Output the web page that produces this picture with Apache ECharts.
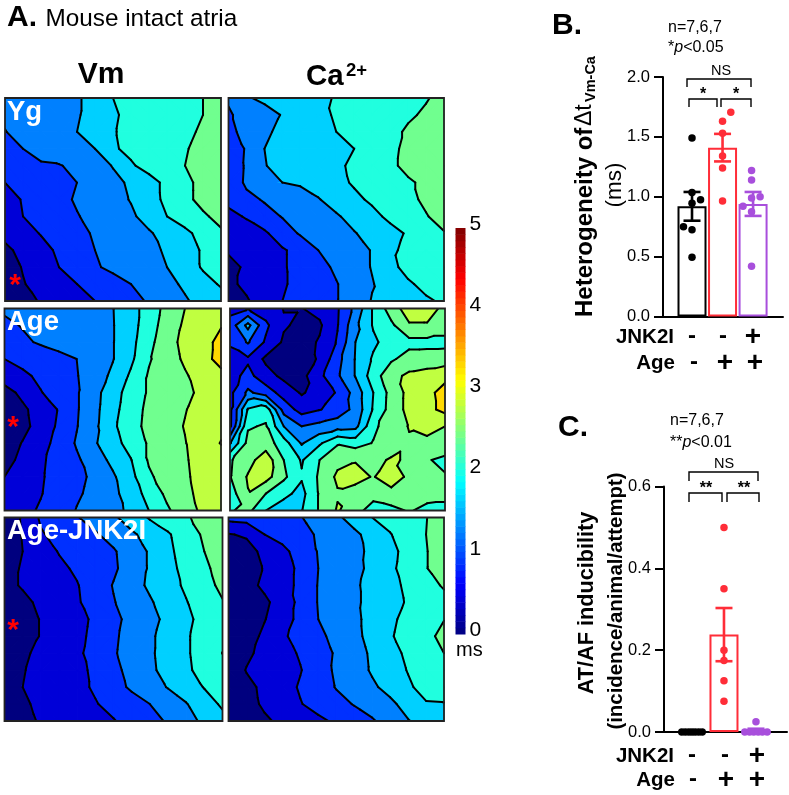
<!DOCTYPE html>
<html><head><meta charset="utf-8">
<style>html,body{margin:0;padding:0;background:#fff}#c{width:789px;height:795px}</style>
<script src="https://cdn.jsdelivr.net/npm/echarts@6/dist/echarts.min.js"></script>
</head><body><div id="c"></div>
<script>
// Contour maps: values read at 13 x 13 sites, in multiples of one contour step (5/12 ms)
const msPerStep = 5 / 12;
const ygVm = [
[3.1,3.3,3.5,3.7,3.9,4.3,5.0,5.2,5.4,5.6,5.8,6.0,6.3],
[3.1,3.3,3.5,3.7,3.9,4.4,4.9,5.2,5.4,5.6,5.8,6.0,6.3],
[2.98,3.2,3.5,3.7,4.0,4.45,4.95,5.2,5.4,5.65,5.85,6.1,6.3],
[2.7,3.0,3.3,3.5,3.75,4.0,4.9,5.2,5.45,5.7,5.95,6.2,6.4],
[2.5,2.8,2.9,2.95,3.2,3.55,4.05,4.9,5.3,5.65,6.0,6.4,6.7],
[2.0,2.25,2.5,2.75,3.0,3.4,3.75,4.15,4.7,5.2,5.75,6.3,6.8],
[1.7,2.05,2.4,2.75,3.1,3.4,3.7,4.05,4.65,5.2,5.75,6.3,6.8],
[1.6,2.0,2.3,2.6,2.95,3.25,3.55,3.85,4.35,5.0,5.4,5.85,6.3],
[1.25,1.65,2.05,2.4,2.75,3.1,3.35,3.65,3.9,4.35,4.8,5.3,5.85],
[0.8,1.25,1.7,2.15,2.6,3.0,3.25,3.5,3.8,4.1,4.6,5.1,5.5],
[0.6,1.05,1.5,2.0,2.45,2.9,3.2,3.45,3.7,4.0,4.5,5.1,5.4],
[0.5,0.95,1.3,1.6,2.0,2.3,2.65,3.0,3.4,3.75,4.15,4.65,5.1],
[0.4,0.8,1.05,1.4,1.7,2.0,2.35,2.7,3.1,3.5,3.9,4.3,4.6]];
const ygCa = [
[3.1,3.9,4.2,4.4,4.6,4.85,5.05,5.25,5.4,5.6,5.75,5.95,6.2],
[2.9,3.3,3.65,4.05,4.4,4.75,5.1,5.3,5.5,5.7,5.9,6.1,6.3],
[2.75,3.3,3.85,4.2,4.45,4.75,5.0,5.25,5.55,5.8,6.1,6.4,6.7],
[2.3,3.1,4.0,4.2,4.4,4.6,4.8,5.0,5.4,5.8,6.2,6.5,6.8],
[2.2,3.15,3.97,4.2,4.4,4.65,4.85,5.15,5.5,5.85,6.2,6.5,6.8],
[2.2,3.2,3.8,4.0,4.1,4.35,4.75,5.1,5.35,5.6,5.9,6.15,6.5],
[2.3,2.7,3.1,3.3,3.65,3.95,4.35,4.8,5.15,5.5,5.8,6.15,6.5],
[1.7,2.1,2.6,3.05,3.35,3.6,3.9,4.3,4.75,5.2,5.55,5.95,6.3],
[1.25,1.5,1.85,2.5,3.1,3.4,3.65,3.95,4.3,4.7,5.1,5.5,5.95],
[1.15,1.4,1.65,1.9,2.3,3.0,3.3,3.65,4.05,4.85,5.2,5.5,5.75],
[0.6,1.2,1.55,1.9,2.3,2.7,3.15,3.6,4.05,4.7,5.35,5.55,5.7],
[0.8,1.2,1.55,1.9,2.25,2.6,2.95,3.4,3.95,4.4,4.85,5.3,5.6],
[0.4,0.9,1.45,2.0,2.3,2.65,2.95,3.5,4.05,4.3,4.6,4.85,5.15]];
const ageVm = [
[3.15,3.35,3.45,3.6,3.75,3.85,3.97,4.6,5.45,6.3,7.0,7.45,7.8],
[2.8,3.05,3.3,3.4,3.6,3.75,3.95,4.6,5.55,6.45,7.15,7.6,7.95],
[2.5,2.85,3.1,3.3,3.5,3.75,3.95,4.7,5.7,6.65,7.25,7.7,8.25],
[2.0,2.3,2.5,2.75,3.0,3.45,3.95,4.8,5.9,6.55,7.15,7.7,8.3],
[1.5,1.8,2.2,2.6,2.95,3.5,4.2,5.15,6.1,6.5,6.9,7.4,7.75],
[0.6,1.25,1.95,2.4,2.9,3.7,4.55,5.45,6.1,6.45,6.8,7.2,7.5],
[0.3,0.8,1.45,2.05,2.9,3.75,4.65,5.6,6.2,6.55,6.95,7.4,7.7],
[0.2,0.7,1.4,2.15,2.95,3.8,4.8,5.65,6.25,6.6,7.05,7.5,7.85],
[0.45,1.05,1.65,2.3,3.1,3.9,4.6,5.4,6.1,6.55,6.95,7.6,8.03],
[0.65,1.25,1.85,2.35,2.85,3.5,4.25,4.95,6.1,6.5,6.9,7.4,7.7],
[1.0,1.45,1.9,2.35,2.75,3.2,3.85,4.7,5.85,6.4,6.85,7.35,7.7],
[1.3,1.55,1.95,2.4,2.85,3.3,3.75,4.45,5.35,6.2,6.75,7.3,7.65],
[1.5,1.75,2.1,2.4,3.05,3.4,3.7,4.2,5.0,5.85,6.55,7.2,7.6]];
const ageCa = [
[1.7,1.95,1.5,0.97,0.97,1.3,1.9,3.3,5.1,6.5,7.5,7.5,6.7],
[2.4,4.3,2.2,1.1,0.8,0.85,1.95,3.75,5.1,5.8,6.9,6.9,6.5],
[2.15,3.1,1.85,0.85,0.6,1.1,2.1,4.0,4.8,5.5,5.7,5.7,5.7],
[1.6,1.85,0.8,0.4,0.4,1.15,2.65,4.05,5.15,5.85,6.4,6.45,6.5],
[1.6,2.3,1.4,0.75,0.7,1.75,2.85,4.05,5.5,6.7,7.2,7.4,7.7],
[1.75,3.2,2.5,1.6,0.9,1.4,2.1,3.4,5.0,6.35,7.3,7.7,8.4],
[1.75,5.1,5.6,2.6,1.6,1.95,2.4,3.3,5.1,6.4,7.3,7.7,8.3],
[1.8,5.9,6.1,4.0,3.0,3.3,3.6,3.7,5.8,6.5,7.05,7.2,7.0],
[3.9,6.3,6.5,5.45,3.9,4.85,5.9,5.6,6.05,6.5,6.9,6.85,6.9],
[5.9,6.6,7.6,6.0,4.9,6.0,6.7,6.95,6.75,7.1,6.9,6.1,5.7],
[5.95,7.1,7.4,6.2,5.1,6.15,7.2,7.25,6.95,7.5,6.8,6.1,6.1],
[5.5,6.95,6.0,5.25,4.7,6.1,6.9,6.7,6.4,6.7,6.6,6.4,6.3],
[5.9,6.3,5.0,4.5,4.95,6.1,7.1,6.4,5.5,5.7,6.1,5.7,5.7]];
const jnkVm = [
[0.3,1.1,2.15,2.55,2.95,3.4,3.85,4.45,5.1,5.5,5.9,6.3,6.6],
[0.4,1.05,1.9,2.3,2.6,2.9,3.35,3.85,4.35,4.9,5.5,6.15,6.6],
[0.45,1.0,1.55,2.05,2.35,2.65,2.9,3.5,4.1,4.8,5.4,6.0,6.5],
[0.6,1.1,1.4,1.8,2.15,2.5,2.85,3.45,4.1,4.7,5.3,5.85,6.3],
[0.7,1.1,1.35,1.65,1.95,2.5,3.05,3.65,4.15,4.65,5.15,5.7,6.2],
[0.3,0.75,1.2,1.55,1.9,2.4,2.95,3.4,3.9,4.4,4.95,5.5,5.95],
[0.25,0.55,1.05,1.4,1.75,2.15,2.75,3.3,3.7,4.25,4.8,5.3,5.7],
[0.25,0.55,1.05,1.45,1.8,2.2,2.85,3.35,3.85,4.35,4.9,5.35,5.75],
[0.4,0.85,1.2,1.5,1.85,2.3,2.9,3.4,3.85,4.4,4.9,5.35,6.02],
[0.5,0.95,1.25,1.55,1.8,2.15,2.75,3.3,3.8,4.35,4.85,5.3,5.65],
[0.6,1.0,1.25,1.5,1.8,2.1,2.65,3.15,3.6,4.05,4.45,5.05,5.5],
[0.5,0.85,1.2,1.45,1.7,1.95,2.25,2.6,3.0,3.45,3.95,4.55,5.15],
[0.35,0.7,1.1,1.3,1.55,1.75,1.95,2.3,2.7,3.1,3.65,4.2,4.7]];
const jnkCa = [
[2.3,2.4,2.55,2.7,2.95,3.35,3.8,4.4,5.0,5.35,5.65,5.98,6.3],
[0.95,1.1,2.0,2.35,2.7,3.1,3.45,3.8,4.35,4.95,5.5,6.0,6.5],
[0.3,0.7,1.2,1.75,2.4,3.05,3.4,3.75,4.2,4.75,5.3,5.95,6.5],
[0.25,0.65,1.05,1.6,2.2,3.0,3.4,3.7,4.25,4.8,5.4,5.95,6.55],
[0.3,0.65,1.2,1.65,2.2,3.05,3.45,3.85,4.3,4.7,5.2,5.65,6.1],
[0.15,0.45,0.8,1.45,2.25,3.05,3.45,3.85,4.25,4.65,5.1,5.4,5.7],
[0.2,0.55,0.95,1.6,2.25,3.0,3.4,3.8,4.3,4.8,5.3,5.65,5.97],
[0.2,0.55,1.2,1.85,2.35,2.8,3.25,3.75,4.3,4.9,5.4,5.7,6.3],
[0.2,0.8,1.3,1.65,2.1,2.6,3.1,3.6,4.15,4.65,5.2,5.55,6.0],
[0.3,1.05,1.35,1.65,1.95,2.55,3.15,3.6,4.1,4.55,5.05,5.3,5.55],
[0.25,0.75,1.2,1.6,2.1,2.55,3.05,3.45,3.85,4.3,4.85,5.35,5.5],
[0.2,0.65,1.15,1.5,1.95,2.35,2.7,3.05,3.4,3.8,4.35,4.92,4.95],
[0.2,0.45,0.85,1.2,1.5,1.8,2.15,2.55,2.9,3.4,3.95,4.35,4.7]];
const mapPanels = [ygVm, ygCa, ageVm, ageCa, jnkVm, jnkCa];

// Panel B
const bMean = [0.92, 1.41, 0.94];
const bSem = [0.12, 0.115, 0.1];
const bYoung = [1.49, 1.035, 0.975, 0.945, 0.75, 0.725, 0.495];
const bYoungX = [0, 0, 0.28, 0, -0.28, 0, 0];
const bAge = [1.705, 1.63, 1.53, 1.34, 1.24, 0.965];
const bAgeX = [0.27, 0, 0, 0, 0, 0];
const bJnk = [1.22, 1.14, 1.0, 0.99, 0.92, 0.875, 0.42];
const bJnkX = [-0.05, -0.05, 0.23, -0.05, -0.33, -0.05, -0.05];

// Panel C
const cMean = [0, 0.238, 0.004];
const cSem = [0, 0.065, 0.004];
const cYoung = [0, 0, 0, 0, 0, 0, 0];
const cYoungX = [-0.32, -0.21, -0.1, 0, 0.1, 0.21, 0.32];
const cAge = [0.5, 0.35, 0.2, 0.175, 0.125, 0.075];
const cAgeX = [0, 0, 0, 0, 0, 0];
const cJnk = [0.025, 0, 0, 0, 0, 0, 0];
const cJnkX = [0, -0.35, -0.2, -0.07, 0.07, 0.2, 0.35];

const BLACK = '#000', RED = '#ff2d38', PURPLE = '#a84fdc';
const groupColors = [BLACK, RED, PURPLE];
const bandColors = ['#00007f','#0000d8','#0030ff','#0080ff','#00d0ff','#20ffdf','#70ff8f','#c0ff40','#ffd800','#ff8000','#ff3000','#a00000'];
const FONT = '"Liberation Sans", Arial, sans-serif';

const panelRects = [
  [5,98,216,203],[228.5,98,215.5,203],
  [4.5,308.5,216.5,202],[230,308.5,215,202],
  [4.5,517.5,218,203.5],[228.5,517.5,215.5,203.5]];

function clip(poly, level, keepAbove) {
  const out = [];
  for (let i = 0; i < poly.length; i++) {
    const a = poly[i], b = poly[(i + 1) % poly.length];
    const ia = keepAbove ? a[2] >= level : a[2] <= level;
    const ib = keepAbove ? b[2] >= level : b[2] <= level;
    if (ia) out.push(a);
    if (ia !== ib) {
      const t = (level - a[2]) / (b[2] - a[2]);
      out.push([a[0] + t * (b[0] - a[0]), a[1] + t * (b[1] - a[1]), level]);
    }
  }
  return out;
}
function cellTriangles(api) {
  const i = api.value(0), j = api.value(1);
  const p = [[i, j, api.value(2)], [i + 1, j, api.value(3)], [i + 1, j + 1, api.value(4)], [i, j + 1, api.value(5)]]
    .map(d => { const c = api.coord([d[0], d[1]]); return [c[0], c[1], d[2]]; });
  return Math.abs(p[0][2] - p[2][2]) <= Math.abs(p[1][2] - p[3][2])
    ? [[p[0], p[1], p[2]], [p[0], p[2], p[3]]]
    : [[p[0], p[1], p[3]], [p[1], p[2], p[3]]];
}
function renderFill(params, api) {
  const children = [];
  cellTriangles(api).forEach(tri => {
    bandColors.forEach((col, k) => {
      let poly = clip(tri, k * msPerStep, true);
      if (poly.length >= 3) poly = clip(poly, (k + 1) * msPerStep, false);
      if (poly.length >= 3) children.push({
        type: 'polygon', shape: { points: poly.map(q => [q[0], q[1]]) },
        style: { fill: col, stroke: col, lineWidth: 1.2 } });
    });
  });
  return { type: 'group', children };
}
function renderLines(params, api) {
  const children = [];
  cellTriangles(api).forEach(tri => {
    for (let k = 1; k < bandColors.length; k++) {
      const L = k * msPerStep, pts = [];
      for (let e = 0; e < 3; e++) {
        const a = tri[e], b = tri[(e + 1) % 3];
        if ((a[2] >= L) !== (b[2] >= L)) {
          const t = (L - a[2]) / (b[2] - a[2]);
          pts.push([a[0] + t * (b[0] - a[0]), a[1] + t * (b[1] - a[1])]);
        }
      }
      if (pts.length === 2) children.push({
        type: 'polyline', shape: { points: pts },
        style: { fill: 'none', stroke: '#000', lineWidth: 2, lineCap: 'round' } });
    }
  });
  return { type: 'group', children };
}
function renderFrame(params, api) {
  const a = api.coord([0, 0]), b = api.coord([12, 12]);
  return { type: 'rect', shape: { x: a[0], y: a[1], width: b[0] - a[0], height: b[1] - a[1] },
    style: { fill: 'none', stroke: '#222', lineWidth: 1.8 } };
}

const grid = [], xAxis = [], yAxis = [], series = [];
mapPanels.forEach((rows, n) => {
  const r = panelRects[n];
  grid.push({ left: r[0], top: r[1], width: r[2], height: r[3] });
  xAxis.push({ type: 'value', gridIndex: n, min: 0, max: 12, show: false });
  yAxis.push({ type: 'value', gridIndex: n, min: 0, max: 12, inverse: true, show: false });
  const cells = [];
  for (let j = 0; j < 12; j++) for (let i = 0; i < 12; i++) {
    cells.push([i, j, rows[j][i] * msPerStep, rows[j][i + 1] * msPerStep, rows[j + 1][i + 1] * msPerStep, rows[j + 1][i] * msPerStep]);
  }
  const common = { type: 'custom', coordinateSystem: 'cartesian2d', xAxisIndex: n, yAxisIndex: n,
    data: cells, encode: { x: 0, y: 1 }, silent: true, animation: false, clip: true };
  series.push(Object.assign({}, common, { renderItem: renderFill, z: 2 }));
  series.push(Object.assign({}, common, { renderItem: renderLines, z: 3 }));
  series.push({ type: 'custom', coordinateSystem: 'cartesian2d', xAxisIndex: n, yAxisIndex: n,
    data: [[0, 0]], encode: { x: 0, y: 1 }, renderItem: renderFrame, silent: true, z: 4, clip: false });
});

// Colour bar
function jet(t) {
  const f = x => Math.round(255 * Math.max(0, Math.min(1, 1.5 - Math.abs(4 * t - x))));
  return 'rgb(' + f(3) + ',' + f(2) + ',' + f(1) + ')';
}
const colorbarSteps = 64;
const barIdx = grid.length;
grid.push({ left: 455.5, top: 228, width: 10, height: 406 });
xAxis.push({ type: 'value', gridIndex: barIdx, min: 0, max: 1, show: false });
yAxis.push({ type: 'value', gridIndex: barIdx, min: 0, max: 5, interval: 1, position: 'right',
  axisLine: { show: false }, axisTick: { show: false }, splitLine: { show: false },
  axisLabel: { color: '#000', fontFamily: FONT, fontSize: 21, margin: 4, verticalAlign: 'bottom', lineHeight: 8 } });
series.push({ type: 'custom', coordinateSystem: 'cartesian2d', xAxisIndex: barIdx, yAxisIndex: barIdx,
  data: Array.from({ length: colorbarSteps }, (_, i) => [i]), encode: { y: 0 }, silent: true,
  renderItem(params, api) {
    const i = api.value(0);
    const a = api.coord([0, (i + 1) * 5 / colorbarSteps]), b = api.coord([1, i * 5 / colorbarSteps]);
    return { type: 'rect', shape: { x: a[0], y: a[1], width: b[0] - a[0], height: b[1] - a[1] + 0.5 },
      style: { fill: jet((i + 0.5) / colorbarSteps) } };
  } });

// Bar panels
function addBarPanel(cfg) {
  const n = grid.length;
  grid.push({ left: cfg.left, top: cfg.top, width: cfg.width, height: cfg.height });
  xAxis.push({ type: 'value', gridIndex: n, min: cfg.xmin, max: cfg.xmax,
    axisLine: { onZero: false, lineStyle: { color: '#000', width: 2 } }, axisTick: { show: false }, axisLabel: { show: false }, splitLine: { show: false } });
  yAxis.push({ type: 'value', gridIndex: n, min: 0, max: cfg.ymax, interval: cfg.yint,
    axisLine: { show: true, onZero: false, lineStyle: { color: '#000', width: 2 } },
    axisTick: { show: true, length: 9, lineStyle: { color: '#000', width: 2 } }, splitLine: { show: false },
    axisLabel: { color: '#000', fontFamily: FONT, fontSize: 16.5, margin: 13, formatter: v => v.toFixed(1) } });
  series.push({ type: 'bar', xAxisIndex: n, yAxisIndex: n, barWidth: cfg.barW, silent: true, z: 2,
    data: cfg.mean.map((m, i) => ({ value: [i, m], itemStyle: { color: '#fff', borderColor: groupColors[i], borderWidth: 2 } })) });
  series.push({ type: 'custom', coordinateSystem: 'cartesian2d', xAxisIndex: n, yAxisIndex: n, silent: true, z: 5,
    data: cfg.mean.map((m, i) => [i, m - cfg.sem[i], m + cfg.sem[i]]), encode: { x: 0, y: [1, 2] }, clip: false,
    renderItem(params, api) {
      const i = api.value(0);
      const lo = api.coord([i, api.value(1)]), hi = api.coord([i, api.value(2)]);
      const st = { fill: 'none', stroke: groupColors[i], lineWidth: 2.6 };
      const hw = cfg.capW;
      return { type: 'group', children: [
        { type: 'polyline', shape: { points: [lo, hi] }, style: st },
        { type: 'polyline', shape: { points: [[lo[0] - hw, lo[1]], [lo[0] + hw, lo[1]]] }, style: st },
        { type: 'polyline', shape: { points: [[hi[0] - hw, hi[1]], [hi[0] + hw, hi[1]]] }, style: st }] };
    } });
  cfg.points.forEach((vals, g) => {
    series.push({ type: 'scatter', xAxisIndex: n, yAxisIndex: n, symbolSize: 7.5, silent: true, z: 6, clip: false,
      itemStyle: { color: groupColors[g], opacity: 1 },
      data: vals.map((v, k) => [g + cfg.offsets[g][k], v]) });
  });
}
addBarPanel({ left: 663, top: 77, width: 120, height: 239.5, xmin: -0.95, xmax: 2.98, ymax: 2, yint: 0.5, barW: 29, capW: 8.5,
  mean: bMean, sem: bSem, points: [bYoung, bAge, bJnk], offsets: [bYoungX, bAgeX, bJnkX] });
addBarPanel({ left: 664, top: 486.5, width: 123, height: 245.5, xmin: -0.875, xmax: 2.97, ymax: 0.6, yint: 0.2, barW: 29, capW: 8.5,
  mean: cMean, sem: cSem, points: [cYoung, cAge, cJnk], offsets: [cYoungX, cAgeX, cJnkX] });

// Text and brackets
const els = [];
function T(text, x, y, size, o) {
  o = o || {};
  els.push({ type: 'text', x, y, rotation: o.rot || 0, z: 100, silent: true,
    style: { text, font: (o.italic ? 'italic ' : '') + (o.bold ? 'bold ' : '') + size + 'px ' + FONT, fill: o.color || '#000',
      textAlign: o.align || 'left', textVerticalAlign: 'middle', rich: o.rich } });
}
function B(pts) {
  els.push({ type: 'polyline', z: 100, silent: true, shape: { points: pts }, style: { fill: 'none', stroke: '#000', lineWidth: 1.4 } });
}
T('A.', 7, 18, 30, { bold: true });
T('Mouse intact atria', 45.5, 19, 24.3);
T('Vm', 101, 75, 30, { bold: true, align: 'center' });
T('Ca', 306, 77, 29.5, { bold: true });
T('2+', 346, 71, 18.5, { bold: true });
T('Yg', 7, 112, 27.5, { bold: true, color: '#fff' });
T('Age', 7, 322, 27.5, { bold: true, color: '#fff' });
T('Age-JNK2I', 7, 531, 27.5, { bold: true, color: '#fff' });
T('*', 15, 286, 30, { bold: true, color: '#ff0000', align: 'center' });
T('*', 13, 428, 30, { bold: true, color: '#ff0000', align: 'center' });
T('*', 13, 631, 30, { bold: true, color: '#ff0000', align: 'center' });
T('ms', 456, 650, 20);

T('B.', 552, 26, 30, { bold: true });
const italicRich = { i: { fontStyle: 'italic', fontFamily: FONT, fontSize: 16 }, n: { fontFamily: FONT, fontSize: 16 } };
T('n=7,6,7', 668, 28, 16);
T('{n|*}{i|p}{n|<0.05}', 668, 48, 16, { rich: italicRich });
T('NS', 721, 71, 14.5, { align: 'center' });
B([[687, 87], [687, 79], [751, 79], [751, 87]]);
B([[689, 107], [689, 99], [717, 99], [717, 107]]);
B([[721, 107], [721, 99], [751, 99], [751, 107]]);
T('*', 703, 95, 16, { bold: true, align: 'center' });
T('*', 736, 95, 16, { bold: true, align: 'center' });
T('Heterogeneity of ', 585, 317, 24, { bold: true, rot: Math.PI / 2 });
T('Δt', 585, 126, 23, { rot: Math.PI / 2 });
T('Vm-Ca', 591, 102, 14.5, { bold: true, rot: Math.PI / 2 });
T('(ms)', 615, 185, 22.5, { rot: Math.PI / 2, align: 'center' });
function signRow(label, y, labelRight, xs, signs) {
  T(label, labelRight, y, 20.5, { bold: true, align: 'right' });
  xs.forEach((x, i) => T(signs[i], x, y + (signs[i] === '-' ? -1 : 0), signs[i] === '-' ? 24 : 28, { bold: true, align: 'center' }));
}
signRow('JNK2I', 337, 674, [692, 723, 753], ['-', '-', '+']);
signRow('Age', 363, 675, [694, 725, 755], ['-', '+', '+']);

T('C.', 558, 428, 30, { bold: true });
T('n=7,6,7', 670, 421, 16);
T('{n|**}{i|p}{n|<0.01}', 670, 443, 16, { rich: italicRich });
T('NS', 724, 464, 14.5, { align: 'center' });
B([[689, 481], [689, 472], [758, 472], [758, 481]]);
B([[689, 502], [689, 493], [722, 493], [722, 502]]);
B([[727, 502], [727, 493], [759, 493], [759, 502]]);
T('**', 706, 489, 16, { bold: true, align: 'center' });
T('**', 744, 489, 16, { bold: true, align: 'center' });
T('AT/AF inducibility', 587, 603, 21.7, { bold: true, rot: Math.PI / 2, align: 'center' });
T('(incidence/animal/attempt)', 616.5, 601, 20.4, { bold: true, rot: Math.PI / 2, align: 'center' });
signRow('JNK2I', 756, 674, [692, 725, 757], ['-', '-', '+']);
signRow('Age', 780, 675, [693, 726, 757], ['-', '+', '+']);

const chart = echarts.init(document.getElementById('c'), null, { renderer: 'canvas' });
chart.setOption({ animation: false, backgroundColor: '#fff', grid, xAxis, yAxis, series, graphic: { elements: els } });
</script></body></html>
